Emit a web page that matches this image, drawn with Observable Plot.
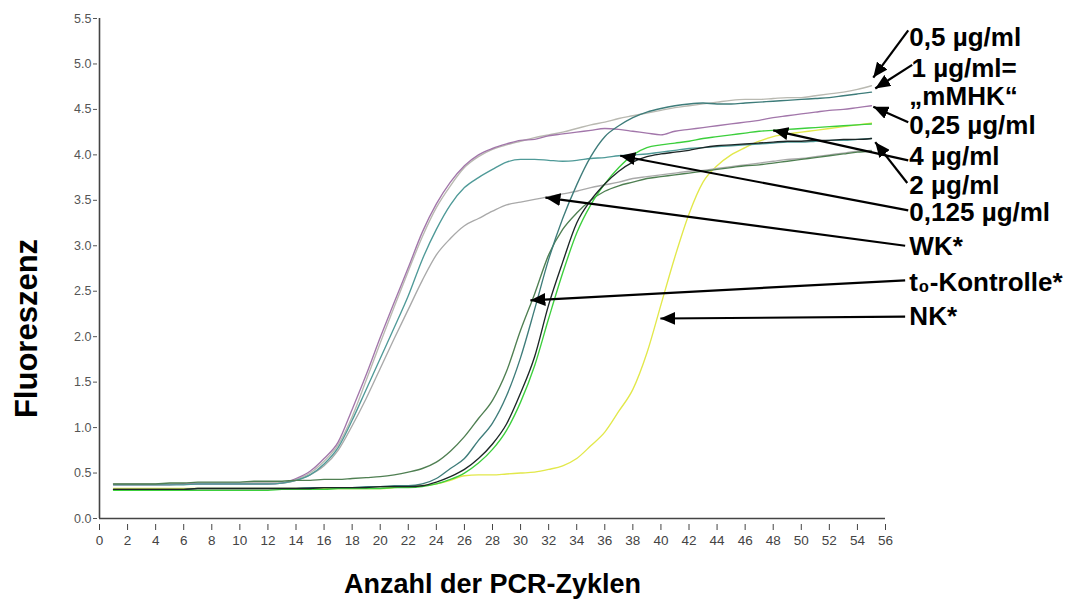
<!DOCTYPE html>
<html><head><meta charset="utf-8">
<script src="https://cdn.jsdelivr.net/npm/d3@7"></script>
<script src="https://cdn.jsdelivr.net/npm/@observablehq/plot@0.6"></script>
<style>
html,body{margin:0;padding:0;background:#fff;}
#chart svg{display:block;font-family:"Liberation Sans",Arial,sans-serif;}
</style></head><body><div id="chart"></div>
<script>
// PCR cycles
const cycles = [1,2,3,4,5,6,7,8,9,10,11,12,13,14,15,16,17,18,19,20,21,22,23,24,25,26,27,28,29,30,31,32,33,34,35,36,37,38,39,40,41,42,43,44,45,46,47,48,49,50,51,52,53,54,55];

const nk = [0.33,0.33,0.33,0.33,0.33,0.33,0.33,0.33,0.33,0.33,
  0.33,0.33,0.33,0.33,0.33,0.33,0.33,0.33,0.33,0.33,
  0.34,0.35,0.36,0.38,0.42,0.47,0.48,0.48,0.49,0.50,
  0.51,0.54,0.58,0.66,0.80,0.95,1.18,1.42,1.82,2.35,
  2.88,3.35,3.70,3.88,4.00,4.08,4.15,4.20,4.23,4.25,
  4.27,4.29,4.31,4.33,4.35];
const wk = [0.38,0.38,0.38,0.38,0.38,0.38,0.39,0.39,0.39,0.39,0.39,0.39,
  0.39,0.42,0.48,0.58,0.75,1.02,1.32,1.65,
  1.98,2.30,2.62,2.90,3.08,3.22,3.30,3.38,3.45,3.48,
  3.51,3.54,3.57,3.60,3.64,3.67,3.70,3.74,3.76,3.78,
  3.80,3.82,3.83,3.85,3.87,3.89,3.91,3.93,3.95,3.96,
  3.98,4.00,4.02,4.04,4.05];
const c05 = [0.38,0.38,0.38,0.38,0.38,0.38,0.39,0.39,0.39,0.39,0.39,0.39,
  0.39,0.43,0.50,0.63,0.81,1.12,1.52,1.93,
  2.33,2.72,3.10,3.42,3.66,3.86,3.98,4.06,4.11,4.15,
  4.19,4.22,4.25,4.29,4.33,4.36,4.40,4.43,4.46,4.49,
  4.52,4.54,4.56,4.58,4.60,4.61,4.61,4.62,4.63,4.63,
  4.65,4.67,4.69,4.72,4.76];
const c025 = [0.37,0.37,0.37,0.37,0.37,0.38,0.38,0.38,0.38,0.38,0.38,0.38,
  0.39,0.44,0.52,0.66,0.84,1.20,1.58,1.99,
  2.38,2.76,3.15,3.46,3.70,3.88,4.00,4.07,4.12,4.16,
  4.17,4.21,4.23,4.25,4.27,4.29,4.28,4.26,4.24,4.22,
  4.26,4.28,4.30,4.32,4.34,4.36,4.38,4.41,4.43,4.45,
  4.47,4.49,4.50,4.52,4.54];
const c0125 = [0.37,0.37,0.37,0.37,0.37,0.37,0.38,0.38,0.38,0.38,0.38,0.38,
  0.39,0.42,0.48,0.60,0.78,1.08,1.42,1.76,
  2.10,2.45,2.85,3.18,3.45,3.64,3.75,3.84,3.92,3.95,
  3.95,3.94,3.93,3.94,3.96,3.97,3.99,4.00,4.01,4.03,
  4.05,4.07,4.08,4.09,4.10,4.11,4.12,4.13,4.14,4.14,
  4.15,4.16,4.16,4.17,4.18];
const t0 = [0.38,0.38,0.38,0.38,0.39,0.39,0.40,0.40,0.40,0.40,
  0.41,0.41,0.41,0.42,0.42,0.43,0.43,0.44,0.45,0.46,
  0.48,0.51,0.55,0.62,0.74,0.90,1.10,1.30,1.62,2.07,
  2.47,2.90,3.18,3.36,3.50,3.60,3.66,3.70,3.74,3.76,
  3.78,3.80,3.82,3.84,3.86,3.88,3.89,3.91,3.93,3.95,
  3.97,3.99,4.01,4.03,4.04];
const c1 = [0.32,0.32,0.32,0.32,0.32,0.32,0.33,0.33,0.33,0.33,
  0.33,0.33,0.33,0.33,0.34,0.34,0.34,0.34,0.35,0.35,
  0.36,0.36,0.38,0.44,0.55,0.66,0.86,1.05,1.35,1.77,
  2.30,2.85,3.30,3.67,3.98,4.20,4.32,4.41,4.47,4.51,
  4.54,4.56,4.57,4.56,4.56,4.57,4.58,4.59,4.60,4.61,
  4.62,4.63,4.65,4.67,4.69];
const c4 = [0.31,0.31,0.31,0.31,0.31,0.31,0.31,0.31,0.31,0.31,
  0.31,0.31,0.32,0.32,0.32,0.32,0.33,0.33,0.33,0.33,
  0.34,0.34,0.35,0.38,0.43,0.50,0.61,0.76,0.97,1.28,
  1.68,2.20,2.70,3.14,3.45,3.68,3.86,4.00,4.08,4.11,
  4.13,4.15,4.18,4.20,4.22,4.24,4.26,4.27,4.28,4.29,
  4.30,4.31,4.32,4.33,4.34];
const c2 = [0.32,0.32,0.32,0.32,0.32,0.32,0.33,0.33,0.33,0.33,
  0.33,0.33,0.33,0.33,0.33,0.34,0.34,0.34,0.34,0.35,
  0.35,0.35,0.36,0.40,0.46,0.54,0.66,0.82,1.04,1.38,
  1.78,2.35,2.82,3.25,3.50,3.68,3.82,3.92,3.98,4.01,
  4.03,4.05,4.08,4.10,4.11,4.12,4.13,4.14,4.15,4.15,
  4.16,4.16,4.17,4.17,4.18];

const seriesNames = ["NK","WK","0,5 µg/ml","0,25 µg/ml","0,125 µg/ml","t0-Kontrolle","1 µg/ml","4 µg/ml","2 µg/ml"];
const seriesValues = [nk, wk, c05, c025, c0125, t0, c1, c4, c2];
const seriesColors = ["#e2e84a","#a9a9a9","#b9b9b1","#a276aa","#4f9a98","#4f7f52","#3e7c7a","#3ccf3c","#1c2626"];

const xTicks = [0,2,4,6,8,10,12,14,16,18,20,22,24,26,28,30,32,34,36,38,40,42,44,46,48,50,52,54,56];
const yTicks = [0,0.5,1,1.5,2,2.5,3,3.5,4,4.5,5,5.5];

// annotations
const labelTexts = ["0,5 µg/ml","1 µg/ml=","\u201EmMHK\u201C","0,25 µg/ml","4 µg/ml","2 µg/ml","0,125 µg/ml","WK*","t\u2080-Kontrolle*","NK*"];
const labelX = [57.7,57.85,57.7,57.7,57.7,57.7,57.7,57.7,57.7,57.7];
const labelY = [5.29,4.95,4.64,4.32,3.98,3.66,3.36,2.99,2.59,2.22];
const arrowX1 = [57.62,57.9,57.62,57.62,57.55,57.62,57.4,57.4,57.4];
const arrowY1 = [5.37,4.99,4.36,3.94,3.69,3.39,3.0,2.62,2.22];
const arrowX2 = [55.13,55.27,55.13,48.0,55.27,37.1,31.77,30.7,39.96];
const arrowY2 = [4.85,4.73,4.53,4.27,4.14,3.99,3.53,2.40,2.20];
const yTitle = ["Fluoreszenz"];
const yTitleAt = [2.09];
const xTitle = ["Anzahl der PCR-Zyklen"];

const table = seriesNames.flatMap((name, s) => cycles.map((c, i) => ({name, cycle: c, value: seriesValues[s][i]})));
const labels = labelTexts.map((t, i) => ({t, x: labelX[i], y: labelY[i]}));
const arrows = arrowX1.map((x1, i) => ({x1, y1: arrowY1[i], x2: arrowX2[i], y2: arrowY2[i]}));

const plot = Plot.plot({
  width: 1067, height: 608,
  marginLeft: 99, marginRight: 182, marginTop: 18, marginBottom: 90,
  x: {domain: [0, 56]},
  y: {domain: [0, 5.5]},
  color: {domain: seriesNames, range: seriesColors},
  style: {fontFamily: "'Liberation Sans', Arial, sans-serif", background: "#fff", overflow: "visible"},
  marks: [
    Plot.axisX(xTicks, {tickSize: 6, dy: 6, tickPadding: 5, fontSize: 13.5, color: "#444", label: null}),
    Plot.axisY(yTicks, {tickSize: 4, dx: -2, tickPadding: 2, fontSize: 12.5, color: "#555", label: null, tickFormat: d => d.toFixed(1)}),
    Plot.ruleY([0], {stroke: "#444", strokeWidth: 1.6}),
    Plot.ruleX([0], {stroke: "#444", strokeWidth: 1.6}),
    Plot.line(table, {x: "cycle", y: "value", z: "name", stroke: "name", strokeWidth: 1.35, curve: "monotone-x"}),
    Plot.link(arrows, {x1: "x1", y1: "y1", x2: "x2", y2: "y2", stroke: "black", strokeWidth: 2.2}),
    Plot.text(labels, {x: "x", y: "y", text: "t", textAnchor: "start", fontSize: 26, fontWeight: "bold", fill: "black"}),
    Plot.text(yTitle, {y: yTitleAt, frameAnchor: "left", textAnchor: "middle", lineAnchor: "middle", rotate: -90, dx: -72, fontSize: 31, fontWeight: "bold", fill: "black"}),
    Plot.text(xTitle, {frameAnchor: "bottom", dy: 74, fontSize: 27, fontWeight: "bold", fill: "black"})
  ]
});
document.getElementById("chart").appendChild(plot);

// filled arrowheads
const svg = d3.select(plot);
const defs = svg.insert("defs", ":first-child");
defs.append("marker").attr("id", "ahead").attr("markerUnits", "userSpaceOnUse")
  .attr("viewBox", "-15 -6.5 16 13").attr("refX", 0).attr("refY", 0)
  .attr("markerWidth", 16).attr("markerHeight", 13).attr("orient", "auto")
  .append("path").attr("d", "M-15,-6.5L0,0L-15,6.5Z").attr("fill", "black");
svg.selectAll('g[aria-label="link"] path').attr("marker-end", "url(#ahead)");
</script></body></html>
